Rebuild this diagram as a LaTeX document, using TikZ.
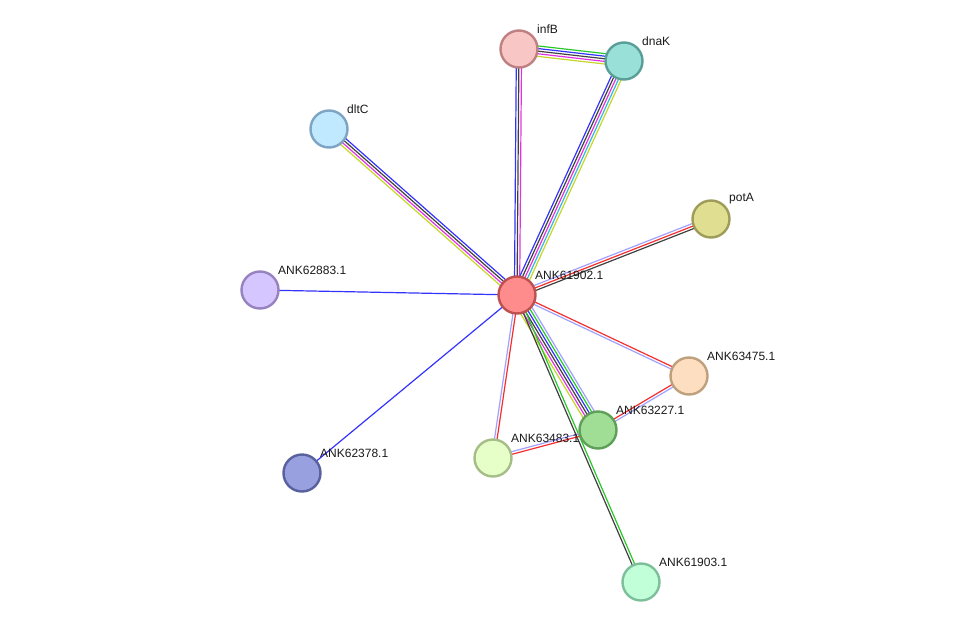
\documentclass[tikz,border=0pt]{standalone}
\usepackage{fontspec}
\setmainfont{Liberation Sans}
\usetikzlibrary{calc}

\pgfdeclarelayer{bg}
\pgfsetlayers{bg,main}

% evidence colours
\definecolor{evblue}{RGB}{51,51,255}
\definecolor{evred}{RGB}{245,45,45}
\definecolor{evgreen}{RGB}{40,200,40}
\definecolor{evblack}{RGB}{64,64,64}
\definecolor{evmagenta}{RGB}{225,50,225}
\definecolor{evcyan}{RGB}{50,185,220}
\definecolor{evyellow}{RGB}{195,215,40}
\definecolor{evhomol}{RGB}{160,160,255}

% parallel lines, one per colour
\newcommand{\evlink}[3]{%
  \foreach \c [count=\k] in {#3} {\xdef\nev{\k}}
  \foreach \c [count=\k] in {#3} {
    \pgfmathsetmacro{\off}{((\nev+1)/2-\k)*2.6}
    \draw[link,\c] ($(#1)!\off pt!90:(#2)$) -- ($(#2)!\off pt!-90:(#1)$);
  }}

\begin{document}
\begin{tikzpicture}[
      x=1pt,y=-1pt,
      prot/.style={
        circle,
        minimum size=37pt,
        inner sep=0pt,
        line width=2.4pt
      },
      lbl/.style={
        font=\fontsize{12}{14}\selectfont,
        text=black!90,
        inner sep=1pt
      },
      link/.style={
        line width=1.2pt
      }
      ]
      \useasboundingbox (0,0) rectangle (975,627);

      % proteins
      \node[prot,fill={rgb,255:red,255;green,140;blue,140},draw={rgb,255:red,190;green,80;blue,80},
            label={[lbl,label distance=2.5pt]40:ANK61902.1}] (center) at (517,295) {};
      \node[prot,fill={rgb,255:red,249;green,198;blue,198},draw={rgb,255:red,190;green,128;blue,128},
            label={[lbl,label distance=2.5pt]40:infB}] (infB) at (519,49) {};
      \node[prot,fill={rgb,255:red,152;green,224;blue,216},draw={rgb,255:red,90;green,158;blue,152},
            label={[lbl,label distance=2.5pt]40:dnaK}] (dnaK) at (624,61) {};
      \node[prot,fill={rgb,255:red,192;green,232;blue,255},draw={rgb,255:red,125;green,165;blue,195},
            label={[lbl,label distance=2.5pt]40:dltC}] (dltC) at (329,129) {};
      \node[prot,fill={rgb,255:red,224;green,222;blue,144},draw={rgb,255:red,158;green,156;blue,88},
            label={[lbl,label distance=2.5pt]40:potA}] (potA) at (711,219) {};
      \node[prot,fill={rgb,255:red,214;green,198;blue,255},draw={rgb,255:red,150;green,130;blue,190},
            label={[lbl,label distance=2.5pt]40:ANK62883.1}] (p62883) at (260,290) {};
      \node[prot,fill={rgb,255:red,254;green,222;blue,192},draw={rgb,255:red,190;green,160;blue,125},
            label={[lbl,label distance=2.5pt]40:ANK63475.1}] (p63475) at (689,376) {};
      \node[prot,fill={rgb,255:red,160;green,222;blue,150},draw={rgb,255:red,95;green,160;blue,88},
            label={[lbl,label distance=2.5pt]40:ANK63227.1}] (p63227) at (598,430) {};
      \node[prot,fill={rgb,255:red,230;green,255;blue,200},draw={rgb,255:red,165;green,190;blue,135},
            label={[lbl,label distance=2.5pt]40:ANK63483.1}] (p63483) at (493,458) {};
      \node[prot,fill={rgb,255:red,152;green,160;blue,224},draw={rgb,255:red,88;green,96;blue,158},
            label={[lbl,label distance=2.5pt]40:ANK62378.1}] (p62378) at (302,473) {};
      \node[prot,fill={rgb,255:red,192;green,255;blue,216},draw={rgb,255:red,125;green,190;blue,155},
            label={[lbl,label distance=2.5pt]40:ANK61903.1}] (p61903) at (641,582) {};

      % interactions
      \begin{pgfonlayer}{bg}
        \evlink{center}{infB}{evblue,evblack,evmagenta}
        \evlink{center}{dnaK}{evblue,evblack,evmagenta,evcyan,evyellow}
        \evlink{infB}{dnaK}{evgreen,evblue,evblack,evmagenta,evyellow}
        \evlink{center}{dltC}{evyellow,evmagenta,evblack,evblue}
        \evlink{center}{potA}{evhomol,evred,evblack}
        \evlink{center}{p62883}{evblue}
        \evlink{center}{p62378}{evblue}
        \evlink{center}{p63475}{evred,evhomol}
        \evlink{center}{p63227}{evhomol,evgreen,evblue,evblack,evmagenta,evyellow}
        \evlink{center}{p61903}{evgreen,evblack}
        \evlink{center}{p63483}{evred,evhomol}
        \evlink{p63483}{p63227}{evhomol,evred}
        \evlink{p63475}{p63227}{evhomol,evred}
      \end{pgfonlayer}

\end{tikzpicture}
\end{document}
